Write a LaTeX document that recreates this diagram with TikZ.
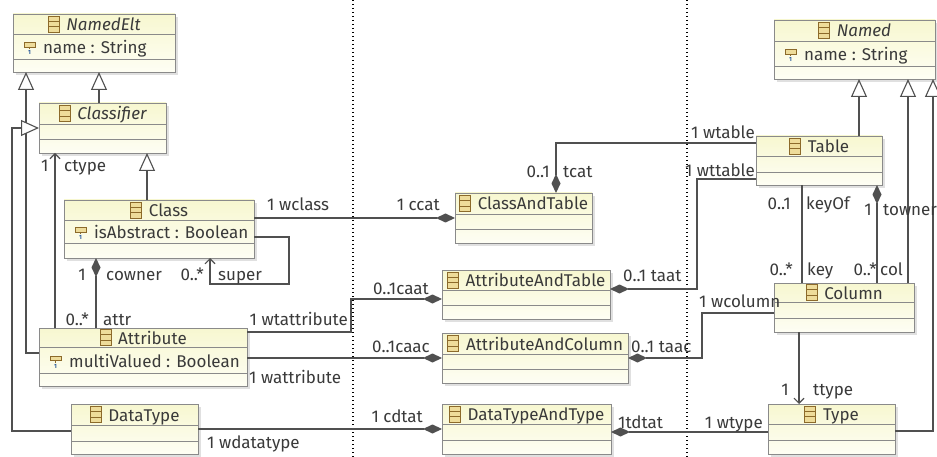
\documentclass[tikz,border=0pt]{standalone}
\usepackage{fontspec}
\setmainfont{Fira Sans}
\usetikzlibrary{arrows.meta,calc}
\definecolor{linec}{HTML}{505050}
\definecolor{txt}{HTML}{3A3A3A}
\definecolor{boxtop}{HTML}{F7F7D0}
\definecolor{boxbot}{HTML}{FEFEF4}
\definecolor{boxln}{HTML}{8A8A8A}
\definecolor{iconln}{HTML}{8C6A2A}
\definecolor{iconfill}{HTML}{EEDC9A}
\definecolor{onec}{HTML}{2A5A9A}
\newcommand\lblfont{\fontsize{17}{19}\selectfont}
\tikzset{
  boxst/.style={draw=boxln, line width=0.9pt, top color=boxtop, bottom color=boxbot, inner sep=0pt, outer sep=0pt, anchor=north west},
  sepst/.style={draw=boxln, line width=0.9pt},
  shadowst/.style={fill=black!12},
  titlest/.style={text=txt, font=\lblfont, inner sep=0pt, anchor=base},
  attrst/.style={text=txt, font=\lblfont, inner sep=0pt, anchor=base west},
  iconst/.style={draw=iconln, fill=iconfill, line width=0.8pt, minimum width=11pt, minimum height=16pt, inner sep=0pt, outer sep=0pt, anchor=east},
  lbl/.style={text=txt, font=\lblfont, inner sep=0pt, anchor=base west},
  lblr/.style={lbl, anchor=base east},
  conn/.style={draw=linec, line width=1.1pt},
  gen/.style={conn, -{Triangle[length=18pt,width=16pt,fill=white]}},
  comp/.style={conn, {Diamond[length=19pt,width=9pt,fill=linec]}-},
  nav/.style={conn, -{Straight Barb[length=5pt,width=10pt]}},
  sepline/.style={draw=black, line width=1.3pt, dash pattern=on 1.4pt off 2.6pt},
}
% #1 name, #2 x1, #3 y1, #4 x2, #5 y2, #6 sep1, #7 sep2, #8 title, #9 attribute
\newcommand\umlbox[9]{%
  \fill[shadowst] (#2+3,#3+3) rectangle (#4+3,#5+3);
  \node[boxst, minimum width={(#4)-(#2)}, minimum height={(#5)-(#3)}] (#1) at (#2,#3) {};
  \draw[sepst] (#2,#6) -- (#4,#6) (#2,#7) -- (#4,#7);
  \coordinate (#1-hc) at ({(#2+#4)/2},{(#3+#6)/2});
  \node[titlest] (#1-t) at ({(#2+#4)/2+9.5},{(#3+#6)/2+6.5}) {#8};
  \path (#1-t.west |- #1-hc) ++(-7,0) node[iconst] (#1-i) {};
  \draw[draw=iconln, line width=0.8pt]
    ($(#1-i.north west)!0.333!(#1-i.south west)$) -- ($(#1-i.north east)!0.333!(#1-i.south east)$)
    ($(#1-i.north west)!0.667!(#1-i.south west)$) -- ($(#1-i.north east)!0.667!(#1-i.south east)$);
  \if\relax\detokenize{#9}\relax\else
    \coordinate (#1-ac) at (#2,{(#6+#7)/2});
    \filldraw[draw=iconln, fill=iconfill, line width=0.7pt] ($(#1-ac)+(11,-4)$) rectangle ($(#1-ac)+(22,0.5)$);
    \draw[draw=iconln, line width=0.7pt] ($(#1-ac)+(16.5,0.5)$) -- ($(#1-ac)+(16.5,2.5)$);
    \node[text=onec, font=\fontsize{6}{6}\selectfont\bfseries, inner sep=0pt, anchor=base] (#1-one) at ($(#1-ac)+(16.5,8.5)$) {1};
    \node[attrst] (#1-a) at (#2+30,{(#6+#7)/2+7}) {#9};
  \fi
}
\begin{document}
\begin{tikzpicture}[x=1pt,y=-1pt]
\useasboundingbox (0,0) rectangle (937,457);
\fill[white] (0,0) rectangle (937,457);
% dotted separators
\coordinate (d1t) at (353,0); \coordinate (d1b) at (353,457);
\coordinate (d2t) at (687,0); \coordinate (d2b) at (687,457);
\draw[sepline] (d1t) -- (d1b);
\draw[sepline] (d2t) -- (d2b);
% boxes
\umlbox{NamedElt}{13}{14}{175}{72}{34}{59}{\itshape NamedElt}{name : String}
\umlbox{Classifier}{39}{103}{166}{153}{124}{139}{\itshape Classifier}{}
\umlbox{Class}{64}{200}{254}{258}{220}{243}{Class}{isAbstract : Boolean}
\umlbox{Attribute}{39}{328}{247}{386}{347}{373}{Attribute}{multiValued : Boolean}
\umlbox{DataType}{71}{404}{198}{454}{425}{441}{DataType}{}
\umlbox{CAT}{455}{193}{592}{243}{214}{229}{ClassAndTable}{}
\umlbox{AAT}{442}{270}{610}{319}{290}{305}{AttributeAndTable}{}
\umlbox{AAC}{442}{333}{628}{383}{354}{369}{AttributeAndColumn}{}
\umlbox{DTT}{442}{404}{611}{454}{424}{440}{DataTypeAndType}{}
\umlbox{Named}{774}{20}{935}{79}{41}{66}{\itshape Named}{name : String}
\umlbox{Table}{756}{136}{882}{185}{156}{172}{Table}{}
\umlbox{Column}{774}{283}{914}{332}{302}{318}{Column}{}
\umlbox{Type}{768}{404}{895}{454}{424}{440}{Type}{}
% connectors
\draw[gen] (Attribute.west |- 0,353) -| ($(NamedElt.south west)+(13,0)$);
\draw[gen] (Classifier.north -| 99,0) -- (NamedElt.south -| 99,0);
\draw[gen] (DataType.west |- 0,431) -- (12,431) -- (12,128) -- (Classifier.west |- 0,128);
\draw[nav] (Attribute.north -| 55,0) -- (Classifier.south -| 55,0);
\draw[gen] (Class.north -| 147,0) -- (Classifier.south -| 147,0);
\draw[comp] (Class.south -| 96,0) -- (Attribute.north -| 96,0);
\draw[nav] (Class.east |- 0,237) -- (289,237) -- (289,284) -- (210,284) -- (Class.south -| 210,0);
\draw[comp] (CAT.west) -- (Class.east |- CAT.west);
\draw[comp] (CAT.north -| 556,0) -- (556,143) -- (Table.west |- 0,143);
\draw[comp] (AAT.west |- 0,299) -- (351,299) -- (351,332) -- (Attribute.east |- 0,332);
\draw[comp] (AAC.west) -- (Attribute.east |- AAC.west);
\draw[comp] (DTT.west) -- (DataType.east |- DTT.west);
\draw[comp] (AAT.east |- 0,289) -- (697,289) -- (697,179) -- (Table.west |- 0,179);
\draw[comp] (AAC.east) -- (702,358) -- (702,313) -- (Column.west |- 0,313);
\draw[comp] (DTT.east |- 0,432) -- (Type.west |- 0,432);
\draw[conn] (Table.south -| 802,0) -- (Column.north -| 802,0);
\draw[comp] (Table.south -| 877,0) -- (Column.north -| 877,0);
\draw[gen] (Table.north -| 859,0) -- (Named.south -| 859,0);
\draw[gen] (Column.north -| 908,0) -- (Named.south -| 908,0);
\draw[gen] (Type.east |- 0,431) -- (933,431) -- (Named.south -| 933,0);
\draw[nav] (Column.south -| 799,0) -- (Type.north -| 799,0);
% labels
\node[lbl] (l1) at (41,172) {1};
\node[lbl] (l2) at (64,172) {ctype};
\node[lbl] (l3) at (267,211) {1 wclass};
\node[lblr] (l4) at (440,211) {1 ccat};
\node[lblr] (l5) at (550,178) {0..1};
\node[lbl] (l6) at (563,178) {tcat};
\node[lblr] (l7) at (86,280) {1};
\node[lbl] (l8) at (106,280) {cowner};
\node[lblr] (l9) at (204,280) {0..*};
\node[lbl] (l10) at (218,280) {super};
\node[lblr] (l11) at (89,325) {0..*};
\node[lbl] (l12) at (103,325) {attr};
\node[lblr] (l13) at (348,325) {1 wtattribute};
\node[lbl] (l14) at (249,383) {1 wattribute};
\node[lbl] (l15) at (207,448) {1 wdatatype};
\node[lblr] (l16) at (429,294) {0..1caat};
\node[lblr] (l17) at (430,352) {0..1caac};
\node[lblr] (l18) at (423,422) {1 cdtat};
\node[lbl] (l19) at (623,281) {0..1 taat};
\node[lbl] (l20) at (631,352) {0..1 taac};
\node[lbl] (l21) at (618,428) {1tdtat};
\node[lblr] (l22) at (763,428) {1 wtype};
\node[lbl] (l23) at (699,307) {1 wcolumn};
\node[lblr] (l24) at (755,139) {1 wtable};
\node[lblr] (l25) at (755,177) {1 wttable};
\node[lblr] (l26) at (791,210) {0..1};
\node[lbl] (l27) at (806,210) {keyOf};
\node[lblr] (l28) at (872,216) {1};
\node[lbl] (l29) at (883,216) {towner};
\node[lblr] (l30) at (793,275) {0..*};
\node[lbl] (l31) at (807,275) {key};
\node[lblr] (l32) at (877,275) {0..*};
\node[lbl] (l33) at (880,275) {col};
\node[lblr] (l34) at (789,395) {1};
\node[lbl] (l35) at (813,395) {ttype};
\end{tikzpicture}
\end{document}
